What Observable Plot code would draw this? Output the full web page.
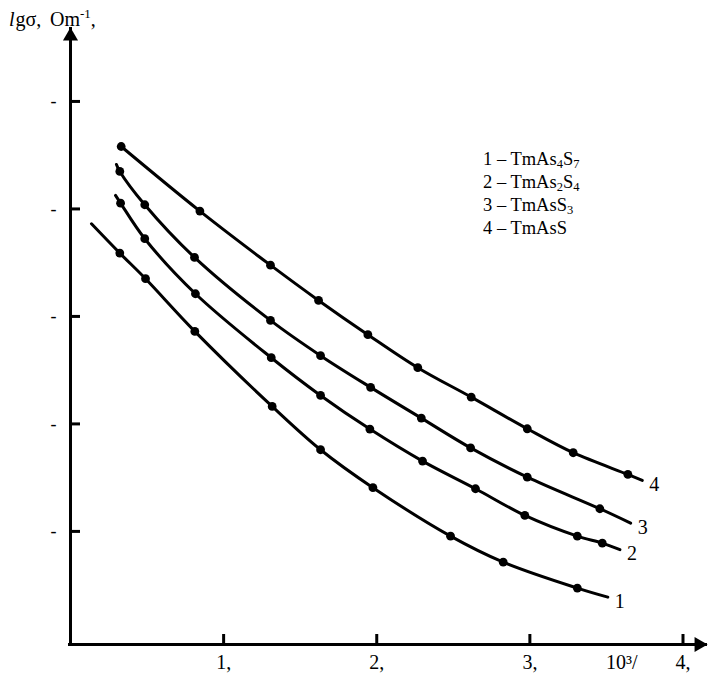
<!DOCTYPE html>
<html>
<head>
<meta charset="utf-8">
<script src="https://cdn.jsdelivr.net/npm/d3@7"></script>
<script src="https://cdn.jsdelivr.net/npm/@observablehq/plot@0.6"></script>
<style>
  html, body { margin: 0; padding: 0; background: #fff; }
</style>
</head>
<body>
<div id="chart"></div>
<script>
// ---- data ----
const curveNames = ["1", "2", "3", "4"];

const curve1X = [0.137, 0.322, 0.490, 0.812, 1.317, 1.633, 1.975, 2.482, 2.826, 3.310, 3.509];
const curve1Y = [-2.166, -2.439, -2.677, -3.167, -3.865, -4.268, -4.621, -5.072, -5.314, -5.555, -5.639];
const curve1Dot = [0, 1, 1, 1, 1, 1, 1, 1, 1, 1, 0];

const curve2X = [0.294, 0.327, 0.485, 0.816, 1.311, 1.633, 1.955, 2.299, 2.645, 2.967, 3.310, 3.473, 3.588];
const curve2Y = [-1.902, -1.974, -2.305, -2.817, -3.412, -3.763, -4.076, -4.374, -4.631, -4.879, -5.072, -5.137, -5.198];
const curve2Dot = [0, 1, 1, 1, 1, 1, 1, 1, 1, 1, 1, 1, 0];

const curve3X = [0.300, 0.322, 0.485, 0.810, 1.306, 1.633, 1.960, 2.291, 2.613, 2.983, 3.457, 3.658];
const curve3Y = [-1.614, -1.679, -1.989, -2.479, -3.065, -3.393, -3.688, -3.974, -4.251, -4.523, -4.817, -4.951];
const curve3Dot = [0, 1, 1, 1, 1, 1, 1, 1, 1, 1, 1, 0];

const curve4X = [0.331, 0.845, 1.306, 1.620, 1.942, 2.268, 2.617, 2.983, 3.283, 3.640, 3.734];
const curve4Y = [-1.447, -2.048, -2.551, -2.879, -3.198, -3.505, -3.779, -4.073, -4.296, -4.498, -4.553];
const curve4Dot = [1, 1, 1, 1, 1, 1, 1, 1, 1, 1, 0];

const xTicks = [1, 2, 3, 4];
const xTickLabels = ["1,", "2,", "3,", "4,"];
const yTicks = [-1, -2, -3, -4, -5];
const yTickLabels = ["-", "-", "-", "-", "-"];
const xUnitLabel = "10³/";
const xUnitPos = 3.6;

const legendLabels = ["1 – TmAs_4S_7", "2 – TmAs_2S_4", "3 – TmAsS_3", "4 – TmAsS"];

// ---- build tables ----
const allX = [curve1X, curve2X, curve3X, curve4X];
const allY = [curve1Y, curve2Y, curve3Y, curve4Y];
const allDot = [curve1Dot, curve2Dot, curve3Dot, curve4Dot];
const rows = [];
curveNames.forEach((name, c) => {
  allX[c].forEach((xv, i) => rows.push({curve: name, x: xv, y: allY[c][i], dot: allDot[c][i] === 1}));
});
const endRows = curveNames.map((name, c) => ({curve: name, x: allX[c][allX[c].length - 1], y: allY[c][allY[c].length - 1]}));

const xMin = 0, xMax = 4.16;
const yMin = -6.08, yMax = -0.34;
const FONT = '"Liberation Serif","Times New Roman",Times,serif';

// title with italic l and superscript
function titleMark(index, scales, values, dims) {
  const g = d3.create("svg:g").attr("font-family", FONT).attr("fill", "black").attr("text-anchor", "start");
  const t = g.append("text").attr("x", 9).attr("y", 26).attr("font-size", 20);
  t.append("tspan").attr("font-style", "italic").text("l");
  t.append("tspan").attr("dx", 1).text("gσ,");
  t.append("tspan").attr("x", 50).text("Om");
  t.append("tspan").attr("font-size", 13).attr("dy", -8).text("-1");
  t.append("tspan").attr("dy", 8).text(",");
  return g.node();
}

// legend with subscripts
function legendMark(index, scales, values, dims) {
  const g = d3.create("svg:g").attr("font-family", FONT).attr("fill", "black")
    .attr("font-size", 18.5).attr("text-anchor", "start");
  legendLabels.forEach((lab, i) => {
    const t = g.append("text").attr("x", 483).attr("y", 165 + i * 23);
    const parts = lab.split(/(_\d)/).filter(s => s.length);
    let shifted = false;
    parts.forEach(p => {
      if (p.startsWith("_")) {
        t.append("tspan").attr("font-size", 12.5).attr("dy", shifted ? 0 : 3).text(p.slice(1));
        shifted = true;
      } else {
        t.append("tspan").attr("dy", shifted ? -3 : 0).text(p);
        shifted = false;
      }
    });
  });
  return g.node();
}

const chart = Plot.plot({
  width: 708,
  height: 682,
  marginLeft: 70,
  marginRight: 1,
  marginTop: 27,
  marginBottom: 38,
  x: {domain: [xMin, xMax]},
  y: {domain: [yMin, yMax]},
  style: {fontFamily: FONT, fontSize: "20px", background: "white", color: "black"},
  marks: [
    // axes lines
    Plot.ruleX([xMin], {stroke: "black", strokeWidth: 3}),
    Plot.ruleY([yMin], {stroke: "black", strokeWidth: 3, insetLeft: -2}),
    // arrow heads
    Plot.dot([0], {x: xMin, y: yMax, symbol: "triangle", r: 5.6, fill: "black", stroke: "none", dy: 8.6}),
    Plot.dot([0], {x: xMax, y: yMin, symbol: "triangle", r: 5.6, fill: "black", stroke: "none", rotate: 90, dx: -8.6}),
    // ticks and tick labels
    Plot.axisX({ticks: xTicks, tickSize: -10, tickPadding: 20, strokeWidth: 3,
      tickFormat: (d) => xTickLabels[xTicks.indexOf(d)], fontSize: 20, fontFamily: FONT, label: null}),
    Plot.axisY({ticks: yTicks, tickSize: -10, tickPadding: 24, strokeWidth: 3, dy: 3,
      tickFormat: (d) => yTickLabels[yTicks.indexOf(d)], fontSize: 18, fontFamily: FONT, label: null}),
    Plot.text([xUnitLabel], {x: xUnitPos, y: yMin, text: (d) => d, lineAnchor: "top", dy: 10, fontSize: 20, fontFamily: FONT, fill: "black"}),
    // curves
    Plot.line(rows, {x: "x", y: "y", z: "curve", curve: "catmull-rom", stroke: "black", strokeWidth: 3}),
    Plot.dot(rows.filter((d) => d.dot), {x: "x", y: "y", r: 4.4, fill: "black", stroke: "none"}),
    Plot.text(endRows, {x: "x", y: "y", text: "curve", dx: 12, dy: 4, fontSize: 20, fontFamily: FONT, fill: "black"}),
    titleMark,
    legendMark
  ]
});
document.getElementById("chart").appendChild(chart);
</script>
</body>
</html>
